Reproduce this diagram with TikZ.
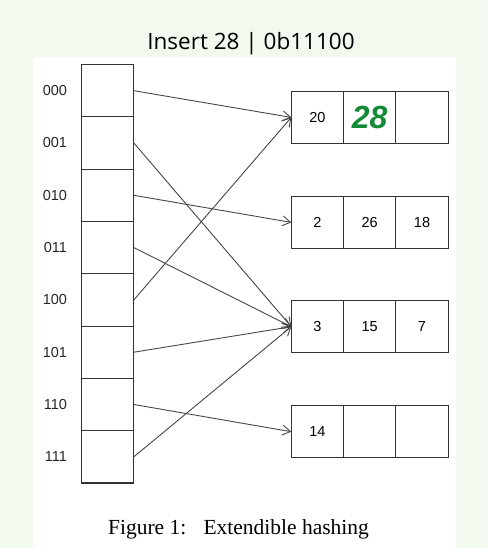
\documentclass[tikz,border=0pt]{standalone}
\usepackage{fontspec}
\setmainfont{Liberation Sans}
\newfontfamily\titlefont{Open Sans}
\newfontfamily\capfont{Liberation Serif}
\usetikzlibrary{matrix, positioning, arrows.meta}
\definecolor{pagegreen}{HTML}{F2F9EE}
\definecolor{inkgreen}{HTML}{138A36}
\definecolor{boxline}{HTML}{333333}

\begin{document}
\begin{tikzpicture}[x=1pt, y=-1pt,
    dir-arr/.style={matrix of nodes, line width=1.1pt, inner sep=0pt, outer sep=0pt,
      row sep=-\pgflinewidth, column sep=-\pgflinewidth, nodes in empty cells,
      nodes={draw=boxline, anchor=center, minimum width=52.3pt, minimum height=52.3pt, inner sep=0pt, font=\fontsize{14.5}{16}\selectfont}},
    ptr/.style={-{Straight Barb[length=8pt, width=10pt]}, draw=black!72, line width=0.9pt}
  ]
  \useasboundingbox (0,0) rectangle (488,548);
  \fill[pagegreen] (0,0) rectangle (488,548);
  \fill[white] (33,57) rectangle (456,548);

  \node[font=\titlefont\fontsize{22.5}{26}\selectfont] (title) at (251,44) {Insert 28 | 0b11100};

  % directory
  \matrix (D) [dir-arr, anchor=north west] at (81,64) {
    \\ \\ \\ \\ \\ \\ \\ \\
  };
  \foreach \i/\bits in {1/000, 2/001, 3/010, 4/011, 5/100, 6/101, 7/110, 8/111}
    \node[left=11pt of D-\i-1, text=black!85, font=\fontsize{14.5}{16}\selectfont] {\bits};

  % buckets
  \matrix (B1) [dir-arr, anchor=north west] at (290.7,90.7) {
    20 & |[text=inkgreen, font=\fontsize{32}{32}\itshape\bfseries]| 28 & \\
  };
  \matrix (B2) [dir-arr, anchor=north west] at (290.7,195.7) {
    2 & 26 & 18 \\
  };
  \matrix (B3) [dir-arr, anchor=north west] at (290.7,300) {
    3 & 15 & 7 \\
  };
  \matrix (B4) [dir-arr, anchor=north west] at (290.7,405) {
    14 & & \\
  };

  \draw[ptr] (D-1-1.east) -- (B1-1-1.west);
  \draw[ptr] (D-2-1.east) -- (B3-1-1.west);
  \draw[ptr] (D-3-1.east) -- (B2-1-1.west);
  \draw[ptr] (D-4-1.east) -- (B3-1-1.west);
  \draw[ptr] (D-5-1.east) -- (B1-1-1.west);
  \draw[ptr] (D-6-1.east) -- (B3-1-1.west);
  \draw[ptr] (D-7-1.east) -- (B4-1-1.west);
  \draw[ptr] (D-8-1.east) -- (B3-1-1.west);

  \node[font=\capfont\fontsize{21.5}{26}\selectfont] (caption) at (238.5,529) {Figure 1:\hspace{0.8em}Extendible hashing};
\end{tikzpicture}
\end{document}
